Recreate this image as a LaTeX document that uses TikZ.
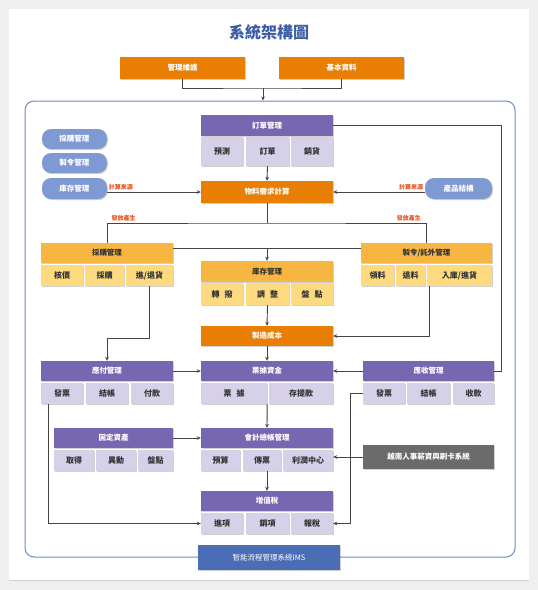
\documentclass[tikz,border=0pt]{standalone}
\usepackage{fontspec}
\setmainfont{Noto Sans CJK TC}
\usetikzlibrary{arrows.meta,shadows}

\definecolor{bggray}{HTML}{EFEFEF}
\definecolor{orangeD}{HTML}{E87E04}
\definecolor{amberH}{HTML}{F7B541}
\definecolor{amberC}{HTML}{FDDA80}
\definecolor{purpleH}{HTML}{7767B0}
\definecolor{lavC}{HTML}{D6D1E9}
\definecolor{pillblue}{HTML}{7F9AD3}
\definecolor{frameblue}{HTML}{6C8CCB}
\definecolor{imsblue}{HTML}{4B6DB6}
\definecolor{grayD}{HTML}{6B6B6B}
\definecolor{noteR}{HTML}{E5501E}
\definecolor{titleB}{HTML}{3D5DA8}
\definecolor{lineG}{HTML}{444444}

\tikzset{
  box/.style={inner sep=0pt, font=\bfseries\fontsize{7.5}{9}\selectfont,
    drop shadow={shadow xshift=1pt, shadow yshift=-1pt, opacity=.18, fill=black}},
  w/.style={minimum width=#1},
  hdr/.style={box, fill=purpleH, text=white, minimum height=20pt},
  cell/.style={box, fill=lavC, text=black!80, minimum height=21pt, font=\bfseries\fontsize{8}{9}\selectfont},
  ahdr/.style={box, fill=amberH, text=black!80, minimum height=20pt},
  acell/.style={cell, fill=amberC},
  obox/.style={box, fill=orangeD, text=white, minimum height=22pt},
  pill/.style={box, fill=pillblue, text=white, rounded corners=9pt, minimum width=65pt, minimum height=20pt},
  gbox/.style={box, fill=grayD, text=white, minimum height=24pt},
  note/.style={text=noteR, font=\bfseries\fontsize{6}{7}\selectfont, inner sep=1.5pt},
  line/.style={draw=lineG, line width=.9pt},
}

\begin{document}
\begin{tikzpicture}[x=1pt,y=-1pt, >={Stealth[length=4pt,width=3.6pt]}]
    \useasboundingbox (0,0) rectangle (538,590);
    \fill[bggray] (0,0) rectangle (538,590);
    \path[fill=white, drop shadow={shadow xshift=0pt, shadow yshift=-1pt, opacity=.12, fill=black}]
        (9,9) rectangle (529,580);

    \node[text=titleB, font=\bfseries\fontsize{16}{18}\selectfont] (title) at (269,32) {系統架構圖};

    % top inputs
    \node[obox, w=125pt] (mgmt)  at (182.5,68) {管理維護};
    \node[obox, w=125pt] (basic) at (341.5,68) {基本資料};

    % frame
    \node[draw=frameblue, line width=1pt, rounded corners=9pt,
          minimum width=490pt, minimum height=456pt] (frame) at (270,329) {};
    \coordinate (join) at (263,88);
    \draw[line] (mgmt.south) |- (join) -| (basic.south);
    \draw[line,->] (join) -- (join |- frame.north);

    % side pills
    \node[pill] (pur) at (74.5,139)   {採購管理};
    \node[pill] (mo)  at (74.5,163)   {製令管理};
    \node[pill, minimum height=21pt] (inv) at (74.5,188.5) {庫存管理};
    \node[pill, minimum height=21pt, w=67pt] (bom) at (458.5,188.5) {產品結構};

    % orders
    \node[hdr, w=132pt, minimum height=21pt] (ordH) at (267,125.5) {訂單管理};
    \node[cell, w=42pt, minimum height=29pt] (ordA) at (222,151.5)   {預測};
    \node[cell, w=43pt, minimum height=29pt] (ordB) at (267.5,151.5) {訂單};
    \node[cell, w=42pt, minimum height=29pt] (ordC) at (312,151.5)   {銷貨};

    \node[obox, w=132pt] (mrp) at (267,192) {物料需求計算};

    % purchasing / work orders
    \node[ahdr, w=132pt] (purH) at (107,253) {採購管理};
    \node[acell, w=42pt] (purA) at (62,275.5)    {核價};
    \node[acell, w=39pt] (purB) at (104.5,275.5) {採購};
    \node[acell, w=47pt] (purC) at (149.5,275.5) {進/退貨};

    \node[ahdr, w=131pt] (moH) at (426.5,253) {製令/託外管理};
    \node[acell, w=33pt] (moA) at (377.5,275.5) {領料};
    \node[acell, w=29pt] (moB) at (410.5,275.5) {退料};
    \node[acell, w=65pt] (moC) at (459.5,275.5) {入庫/進貨};

    % stock
    \node[ahdr, w=132pt, minimum height=21pt] (stkH) at (267,271.5) {庫存管理};
    \node[acell, w=42pt, minimum height=22pt] (stkA) at (222,294)   {轉\hspace{5pt}撥};
    \node[acell, w=43pt, minimum height=22pt] (stkB) at (267.5,294) {調\hspace{5pt}整};
    \node[acell, w=42pt, minimum height=22pt] (stkC) at (312,294)   {盤\hspace{5pt}點};

    \node[obox, w=132pt, minimum height=20pt] (cost) at (267,336) {製造成本};

    % payables / bills / receivables
    \node[hdr, w=132pt] (apH) at (107,371) {應付管理};
    \node[cell, w=42pt] (apA) at (62,393.5)  {發票};
    \node[cell, w=42pt] (apB) at (107,393.5) {結帳};
    \node[cell, w=42pt] (apC) at (152,393.5) {付款};

    \node[hdr, w=132pt] (billH) at (267,371) {票據資金};
    \node[cell, w=66pt] (billA) at (234,393.5) {票\hspace{5pt}據};
    \node[cell, w=64pt] (billB) at (301,393.5) {存提款};

    \node[hdr, w=131pt] (arH) at (428.5,371) {應收管理};
    \node[cell, w=42pt] (arA) at (384,393.5)   {發票};
    \node[cell, w=43pt] (arB) at (428.5,393.5) {結帳};
    \node[cell, w=41pt] (arC) at (473.5,393.5) {收款};

    % assets / ledger
    \node[hdr, w=119pt] (faH) at (113.5,438) {固定資產};
    \node[cell, w=40pt] (faA) at (74,460.5)    {取得};
    \node[cell, w=40pt] (faB) at (116,460.5)   {異動};
    \node[cell, w=35pt] (faC) at (155.5,460.5) {盤點};

    \node[hdr, w=132pt] (glH) at (267,438) {會計總帳管理};
    \node[cell, w=39pt] (glA) at (220.5,460.5) {預算};
    \node[cell, w=38pt] (glB) at (262,460.5)   {傳票};
    \node[cell, w=50pt] (glC) at (308,460.5)   {利潤中心};

    \node[gbox, w=131pt] (hr) at (428.5,457) {越南人事薪資與刷卡系統};

    % tax
    \node[hdr, w=132pt] (vatH) at (267,501) {增值稅};
    \node[cell, w=42pt] (vatA) at (222,523.5)   {進項};
    \node[cell, w=43pt] (vatB) at (267.5,523.5) {銷項};
    \node[cell, w=42pt] (vatC) at (312,523.5)   {報稅};

    \node[box, fill=imsblue, text=white, w=142pt, minimum height=25pt,
          font=\fontsize{7.5}{9}\selectfont] (ims) at (269,557.5) {智能流程管理系統IMS};

    % connectors
    \draw[line,->] (ordB.south) -- (mrp.north);
    \draw[line,->] (inv.east |- mrp.west) -- (mrp.west);
    \draw[line,->] (bom.west |- mrp.east) -- (mrp.east);
    \node[note, above right] (srcL) at (inv.east |- mrp.west) {計算來源};
    \node[note, above left]  (srcR) at (bom.west |- mrp.east) {計算來源};

    \coordinate (split) at (267,223);
    \draw[line] (mrp.south) -- (split);
    \draw[line] (purH.north) |- (split) -| (moH.north);
    \node[note, above right] (issL) at ([xshift=3pt]purH.north |- split) {發放產生};
    \node[note, above left]  (issR) at ([xshift=-4pt]moH.north |- split) {發放產生};

    \coordinate (mid) at (267,248);
    \draw[line] ([yshift=5pt]purH.east) -- ([yshift=5pt]moH.west);
    \draw[line,->] (mid) -- (stkH.north);

    \draw[line,->] (stkB.south) -- (cost.north);
    \draw[line,->] (purC.south) -- ++(0,52) -| (apH.north);
    \draw[line,->] ([xshift=3pt]moC.south west) |- (cost.east);
    \draw[line,->] (cost.south) -- (billH.north);

    \draw[line,->] (apH.east) -- (billH.west);
    \draw[line,->] (arH.west) -- (billH.east);
    \draw[line] (ordH.east) -- ++(168,0) |- (arH.east);

    \draw[line,->] (billA.south east) -- (glH.north);
    \draw[line,->] (faH.east) -- (glH.west);
    \draw[line,->] (hr.west) -- (hr.west -| glC.east);
    \draw[line,->] (glB.south -| glH.south) -- (vatH.north);

    \draw[line,->] ([xshift=8pt]apA.south west) |- (vatA.west);
    \draw[line,->] (arA.west) -- ++(-12,0) |- (vatC.east);
\end{tikzpicture}
\end{document}
